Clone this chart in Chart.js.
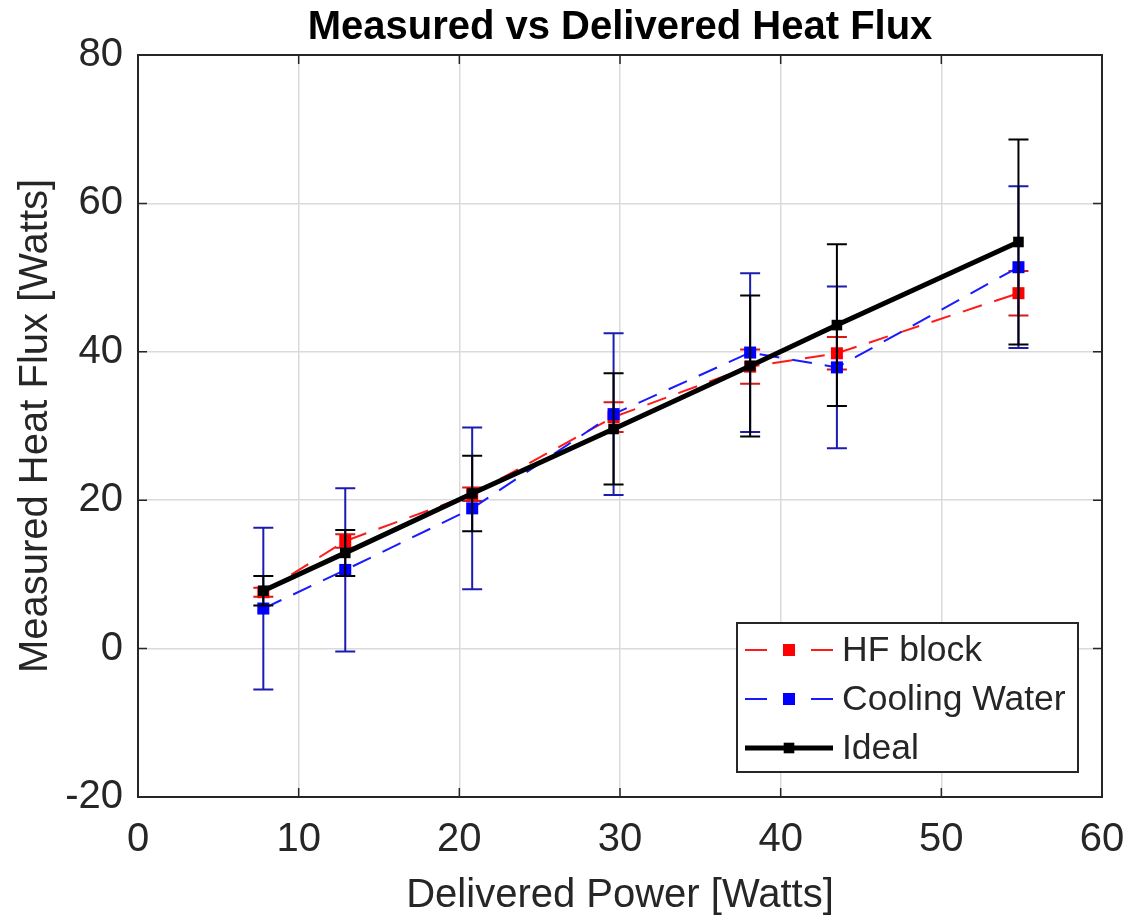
<!DOCTYPE html>
<html>
<head>
<meta charset="utf-8">
<title>Measured vs Delivered Heat Flux</title>
<script src="https://cdn.jsdelivr.net/npm/chart.js@4.4.1/dist/chart.umd.min.js"></script>
<style>
  html, body { margin: 0; padding: 0; background: #ffffff; }
  #wrap { width: 1133px; height: 921px; }
</style>
</head>
<body>
<div id="wrap"><canvas id="c" width="1133" height="921"></canvas></div>
<script>
// Delivered power (x) for every test point, in watts
const deliveredPower = [7.8, 12.9, 20.8, 29.6, 38.1, 43.5, 54.8];

// Heat flux measured at the HF block, with its uncertainty
const hfBlock    = [7.6, 14.5, 20.8, 31.2, 38.0, 39.8, 47.9];
const hfBlockErr = [0.6, 0.9, 0.9, 2.0, 2.3, 2.2, 3.0];

// Heat flux measured from the cooling water, with its uncertainty
const coolingWater    = [5.4, 10.6, 18.9, 31.6, 39.9, 37.9, 51.4];
const coolingWaterErr = [10.9, 11.0, 10.9, 10.9, 10.7, 10.9, 10.9];

// Ideal (measured = delivered) with its band
const ideal    = [7.8, 12.9, 20.9, 29.6, 38.1, 43.6, 54.8];
const idealErr = [2.0, 3.1, 5.1, 7.5, 9.5, 10.9, 13.8];

// Axis ticks
const xTicks = [0, 10, 20, 30, 40, 50, 60];
const yTicks = [-20, 0, 20, 40, 60, 80];

const TITLE = 'Measured vs Delivered Heat Flux';
const FONT = '"Liberation Sans", Arial, Helvetica, sans-serif';
const AXIS_GREY = '#262626';

const points = (ys) => deliveredPower.map((x, i) => ({ x: x, y: ys[i] }));

// Vertical error bars with caps, drawn beneath each dataset's line and markers
const errorBars = {
  id: 'errorBars',
  beforeDatasetDraw(chart, args) {
    const ds = chart.data.datasets[args.index];
    if (!ds.errors) return;
    const yScale = chart.scales.y;
    const ctx = chart.ctx;
    const cap = 10;
    ctx.save();
    ctx.strokeStyle = ds.errorColor;
    ctx.lineWidth = 2;
    ctx.setLineDash([]);
    args.meta.data.forEach((pt, i) => {
      const v = ds.data[i].y;
      const e = ds.errors[i];
      const top = yScale.getPixelForValue(v + e);
      const bot = yScale.getPixelForValue(v - e);
      ctx.beginPath();
      ctx.moveTo(pt.x, top); ctx.lineTo(pt.x, bot);
      ctx.moveTo(pt.x - cap, top); ctx.lineTo(pt.x + cap, top);
      ctx.moveTo(pt.x - cap, bot); ctx.lineTo(pt.x + cap, bot);
      ctx.stroke();
    });
    ctx.restore();
  }
};

// Closed axes box with inward tick marks on all four sides, plus the title over the plot area
const axesBox = {
  id: 'axesBox',
  afterDatasetsDraw(chart) {
    const { ctx, chartArea: a, scales } = chart;
    const len = 9;
    ctx.save();
    ctx.strokeStyle = AXIS_GREY;
    ctx.lineWidth = 1.5;
    ctx.setLineDash([]);
    ctx.beginPath();
    scales.x.ticks.forEach(t => {
      const px = scales.x.getPixelForValue(t.value);
      ctx.moveTo(px, a.bottom); ctx.lineTo(px, a.bottom - len);
      ctx.moveTo(px, a.top); ctx.lineTo(px, a.top + len);
    });
    scales.y.ticks.forEach(t => {
      const py = scales.y.getPixelForValue(t.value);
      ctx.moveTo(a.left, py); ctx.lineTo(a.left + len, py);
      ctx.moveTo(a.right, py); ctx.lineTo(a.right - len, py);
    });
    ctx.stroke();
    ctx.lineWidth = 2;
    ctx.strokeRect(a.left, a.top, a.right - a.left, a.bottom - a.top);

    ctx.fillStyle = '#000000';
    ctx.font = 'bold 40px ' + FONT;
    ctx.textAlign = 'center';
    ctx.textBaseline = 'middle';
    ctx.fillText(TITLE, (a.left + a.right) / 2, a.top - 27);
    ctx.restore();
  }
};

// Boxed legend in the lower-right corner of the plot area
const boxLegend = {
  id: 'boxLegend',
  afterDraw(chart) {
    const { ctx, chartArea: a } = chart;
    const w = 341, h = 149;
    const right = a.right - 24, bottom = a.bottom - 25;
    const left = right - w, top = bottom - h;
    ctx.save();
    ctx.fillStyle = '#ffffff';
    ctx.fillRect(left, top, w, h);
    ctx.strokeStyle = AXIS_GREY;
    ctx.lineWidth = 2;
    ctx.strokeRect(left, top, w, h);

    const rowY = [top + 27, top + 76, top + 125];
    const x0 = left + 8, x1 = left + 96, xm = (x0 + x1) / 2;
    chart.data.datasets.forEach((ds, i) => {
      const y = rowY[i];
      ctx.strokeStyle = ds.borderColor;
      ctx.lineWidth = ds.borderWidth;
      ctx.setLineDash([]);
      ctx.beginPath();
      if (ds.borderDash && ds.borderDash.length) {
        ctx.moveTo(x0, y); ctx.lineTo(x0 + 22, y);
        ctx.moveTo(x1 - 22, y); ctx.lineTo(x1, y);
      } else {
        ctx.moveTo(x0, y); ctx.lineTo(x1, y);
      }
      ctx.stroke();
      const s = ds.pointRadius * Math.SQRT2;
      ctx.fillStyle = ds.pointBackgroundColor;
      ctx.fillRect(xm - s / 2, y - s / 2, s, s);
      ctx.fillStyle = AXIS_GREY;
      ctx.font = '35.5px ' + FONT;
      ctx.textBaseline = 'middle';
      ctx.textAlign = 'left';
      ctx.fillText(ds.label, left + 105, y + 1);
    });
    ctx.restore();
  }
};

new Chart(document.getElementById('c'), {
  type: 'scatter',
  data: {
    datasets: [
      {
        label: 'HF block',
        data: points(hfBlock),
        errors: hfBlockErr,
        errorColor: '#d61a1a',
        showLine: true,
        borderColor: '#ff1a1a',
        borderWidth: 2,
        borderDash: [20, 13],
        pointStyle: 'rect',
        pointRadius: 8.5,
        pointBackgroundColor: '#ff0000',
        pointBorderColor: '#ff0000',
        pointBorderWidth: 0,
        order: 2
      },
      {
        label: 'Cooling Water',
        data: points(coolingWater),
        errors: coolingWaterErr,
        errorColor: '#1c1cb0',
        showLine: true,
        borderColor: '#1a1aff',
        borderWidth: 2,
        borderDash: [20, 13],
        pointStyle: 'rect',
        pointRadius: 8.5,
        pointBackgroundColor: '#0000ff',
        pointBorderColor: '#0000ff',
        pointBorderWidth: 0,
        order: 1
      },
      {
        label: 'Ideal',
        data: points(ideal),
        errors: idealErr,
        errorColor: '#000000',
        showLine: true,
        borderColor: '#000000',
        borderWidth: 5,
        pointStyle: 'rect',
        pointRadius: 7.5,
        pointBackgroundColor: '#000000',
        pointBorderColor: '#000000',
        pointBorderWidth: 0,
        order: 0
      }
    ]
  },
  options: {
    responsive: false,
    animation: false,
    devicePixelRatio: 1,
    layout: { padding: { top: 55, right: 31, bottom: 0, left: 0 } },
    plugins: {
      legend: { display: false },
      tooltip: { enabled: false },
      title: { display: false }
    },
    scales: {
      x: {
        type: 'linear',
        min: xTicks[0],
        max: xTicks[xTicks.length - 1],
        afterBuildTicks: (s) => { s.ticks = xTicks.map(v => ({ value: v })); },
        afterFit: (s) => { s.height = 124; s.paddingLeft = 0; s.paddingRight = 0; },
        grid: { color: '#dadada', lineWidth: 1.5, drawTicks: false },
        border: { display: false },
        ticks: {
          color: AXIS_GREY,
          padding: 19,
          maxRotation: 0,
          font: { family: FONT, size: 40 }
        },
        title: {
          display: true,
          text: 'Delivered Power [Watts]',
          color: AXIS_GREY,
          font: { family: FONT, size: 40, lineHeight: 1.2 },
          padding: { top: 0, bottom: 1 }
        }
      },
      y: {
        type: 'linear',
        min: yTicks[0],
        max: yTicks[yTicks.length - 1],
        afterBuildTicks: (s) => { s.ticks = yTicks.map(v => ({ value: v })); },
        afterFit: (s) => { s.width = 138; s.paddingTop = 0; s.paddingBottom = 0; },
        grid: { color: '#dadada', lineWidth: 1.5, drawTicks: false },
        border: { display: false },
        ticks: {
          color: AXIS_GREY,
          padding: 15,
          font: { family: FONT, size: 40 }
        },
        title: {
          display: true,
          text: 'Measured Heat Flux [Watts]',
          color: AXIS_GREY,
          font: { family: FONT, size: 40, lineHeight: 1.2 },
          padding: { top: 12, bottom: 0 }
        }
      }
    }
  },
  plugins: [errorBars, axesBox, boxLegend]
});
</script>
</body>
</html>
